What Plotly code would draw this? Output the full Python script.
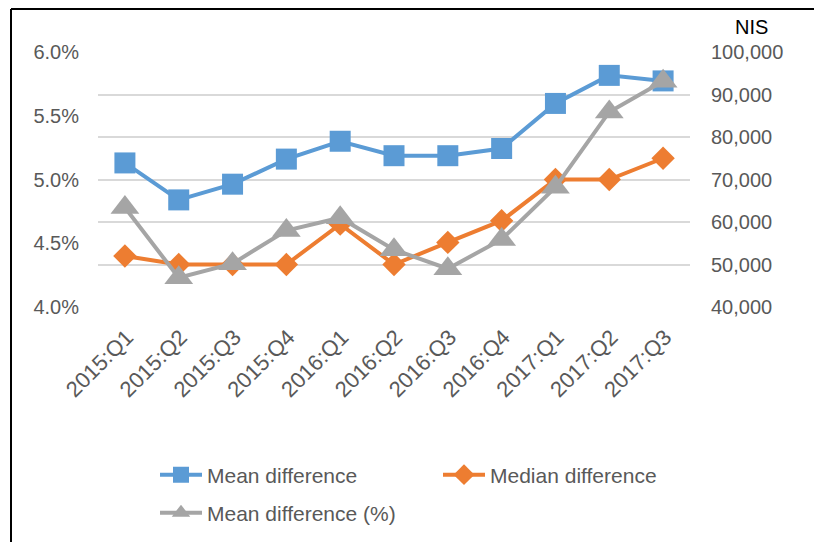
import plotly.graph_objects as go

categories = ["2015:Q1", "2015:Q2", "2015:Q3", "2015:Q4", "2016:Q1", "2016:Q2",
              "2016:Q3", "2016:Q4", "2017:Q1", "2017:Q2", "2017:Q3"]
mean_diff = [73900, 65200, 68900, 74800, 79000, 75600, 75600, 77300, 87900, 94500, 93200]
median_diff = [52000, 50000, 50000, 50000, 59500, 50000, 55200, 60300, 70000, 70000, 75000]
mean_diff_pct = [4.78, 4.23, 4.34, 4.60, 4.70, 4.45, 4.30, 4.53, 4.94, 5.53, 5.77]

# page offset (body margin) compensation
OX, OY = 8, 8
W, H = 822 - OX, 542 - OY
# plot area in screen pixels
PX0, PX1, PY0, PY1 = 98, 690, 52, 307
L, R, T, B = PX0 - OX, W - (PX1 - OX), PY0 - OY, H - (PY1 - OY)
pw, ph = PX1 - PX0, PY1 - PY0


def px_x(x):
    return (x - PX0) / pw


def px_y(y):
    return (PY1 - y) / ph


FONT = "Liberation Sans, Arial, sans-serif"
TICK = "#595959"
TS = 20

fig = go.Figure()
fig.add_trace(go.Scatter(
    x=categories, y=mean_diff, name="Mean difference", mode="lines+markers",
    line=dict(color="#5B9BD5", width=4),
    marker=dict(symbol="square", size=21, color="#5B9BD5"),
    yaxis="y", legend="legend"))
fig.add_trace(go.Scatter(
    x=categories, y=median_diff, name="Median difference", mode="lines+markers",
    line=dict(color="#ED7D31", width=4),
    marker=dict(symbol="diamond", size=18, color="#ED7D31"),
    yaxis="y", legend="legend"))
fig.add_trace(go.Scatter(
    x=categories, y=mean_diff_pct, name="Mean difference (%)", mode="lines+markers",
    line=dict(color="#A5A5A5", width=4),
    marker=dict(symbol="triangle-up", size=25, color="#A5A5A5"),
    yaxis="y2", legend="legend2"))

legend_common = dict(
    orientation="h", xanchor="left", yanchor="middle",
    font=dict(size=21, color=TICK), bgcolor="rgba(0,0,0,0)",
    itemwidth=42,
)

fig.update_layout(
    width=W, height=H,
    margin=dict(l=L, r=R, t=T, b=B, pad=0, autoexpand=False),
    paper_bgcolor="white", plot_bgcolor="white",
    font=dict(family=FONT, color=TICK, size=TS),
    showlegend=True,
    xaxis=dict(
        type="category", range=[-0.5, len(categories) - 0.5],
        tickangle=-45, showgrid=False, showline=False,
        ticks="", tickfont=dict(size=22, color=TICK), zeroline=False,
        automargin=False, ticklabelstandoff=12, ticklabelshift=2,
    ),
    yaxis=dict(
        side="right", range=[40000, 100000], dtick=10000, tickformat=",",
        showgrid=True, gridcolor="#D9D9D9", gridwidth=1.5, zeroline=False,
        showline=False, ticks="", tickfont=dict(size=TS, color=TICK),
        ticklabelstandoff=20, automargin=False,
    ),
    yaxis2=dict(
        overlaying="y", side="left", range=[4.0, 6.0], dtick=0.5,
        tickformat=".1f", ticksuffix="%", showgrid=False, zeroline=False,
        showline=False, ticks="", tickfont=dict(size=TS, color=TICK),
        ticklabelstandoff=18, automargin=False,
    ),
    legend=dict(legend_common, x=px_x(155), y=px_y(475),
                entrywidth=226, entrywidthmode="pixels"),
    legend2=dict(legend_common, x=px_x(155), y=px_y(513)),
    annotations=[dict(
        text="NIS", x=px_x(751), y=px_y(27), xref="paper", yref="paper",
        showarrow=False, font=dict(size=20, color="black"),
        xanchor="center", yanchor="middle",
    )],
    shapes=[
        dict(type="line", xref="paper", yref="paper",
             x0=px_x(11), x1=px_x(830), y0=px_y(9), y1=px_y(9),
             line=dict(color="black", width=2)),
        dict(type="line", xref="paper", yref="paper",
             x0=px_x(11), x1=px_x(11), y0=px_y(9), y1=px_y(550),
             line=dict(color="black", width=2)),
    ],
)

fig.write_html("out.html")
